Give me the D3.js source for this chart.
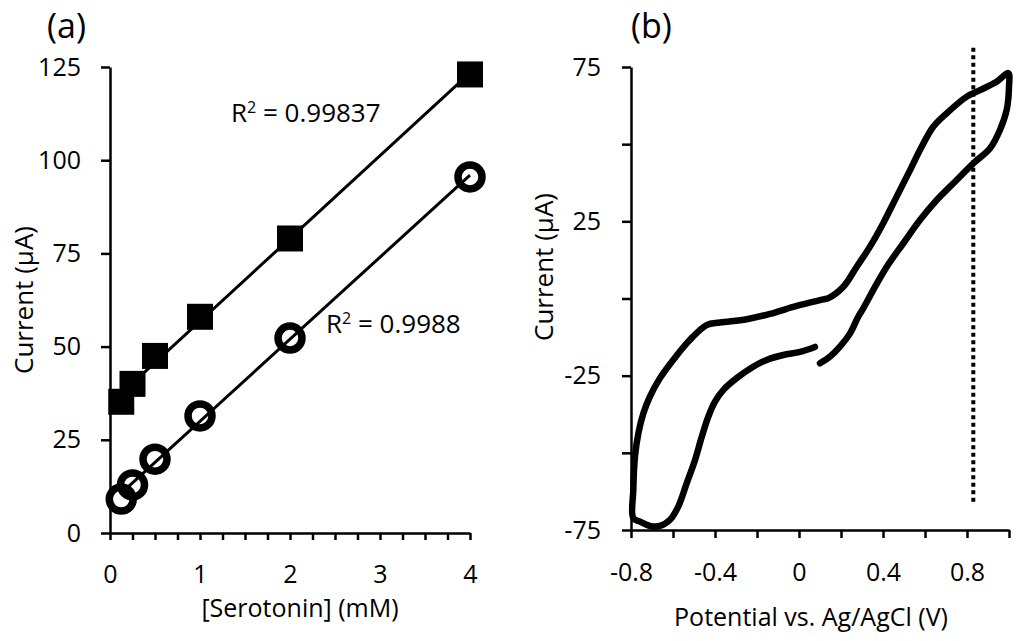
<!DOCTYPE html>
<html>
<head>
<meta charset="utf-8">
<script src="https://cdn.jsdelivr.net/npm/d3@7"></script>
<style>
  body { margin: 0; background: #fff; }
  svg { display: block; }
  text { font-family: "Open Sans", sans-serif; fill: #000; }
  .axis path, .axis line { stroke: #000; stroke-width: 2.5; }
  .axis text { font-size: 25px; font-family: "Open Sans", sans-serif; }
</style>
</head>
<body>
<div id="chart"></div>
<script>
// Panel (a): calibration, [Serotonin] (mM) vs current (uA)
var concA = [0.125, 0.25, 0.5, 1, 2, 4];
var currentSquares = [35.2, 40, 47.5, 58, 79, 123];
var currentCircles = [9.1, 12.9, 19.8, 31.4, 52.3, 95.5];
// trend lines (x ends, y ends)
var trendX = [0.125, 4];
var trendSquaresY = [37.4, 123.4];
var trendCirclesY = [10.7, 96.0];
var r2Labels = ["0.99837", "0.9988"];

var xTicksA = [0, 0.25, 0.5, 0.75, 1, 1.25, 1.5, 1.75, 2, 2.25, 2.5, 2.75, 3, 3.25, 3.5, 3.75, 4];
var xLabelsA = ["0", "1", "2", "3", "4"];
var yTicksA = [0, 25, 50, 75, 100, 125];

// Panel (b): cyclic voltammogram, potential (V) vs current (uA)
var cvPotential = [0.076, 0.005, -0.075, -0.154, -0.218, -0.297, -0.360, -0.400, -0.432, -0.463,
  -0.495, -0.535, -0.575, -0.614, -0.662, -0.710, -0.757, -0.789, -0.789, -0.781,
  -0.765, -0.741, -0.710, -0.662, -0.599, -0.519, -0.440, -0.376, -0.249, -0.138,
  -0.011, 0.116, 0.140, 0.211, 0.275, 0.338, 0.401, 0.465, 0.529, 0.576,
  0.640, 0.703, 0.799, 0.862, 0.941, 0.997, 1.000, 0.989, 0.957, 0.910,
  0.830, 0.751, 0.656, 0.576, 0.497, 0.418, 0.354, 0.306, 0.282, 0.243,
  0.195, 0.148, 0.100];
var cvCurrent = [-15.7, -17.3, -18.3, -19.9, -22.1, -25.8, -29.6, -33.4, -38.3, -44.8,
  -52.3, -59.9, -67.4, -71.7, -73.7, -73.7, -72.3, -71.2, -62.0, -51.2,
  -43.7, -37.2, -31.8, -25.8, -19.9, -13.4, -8.6, -7.8, -6.7, -5.0,
  -2.4, -0.3, 0.1, 3.8, 10.3, 16.8, 24.4, 33.0, 41.6, 48.1,
  55.7, 60.0, 65.4, 67.5, 70.2, 73.0, 68.6, 61.1, 54.6, 48.7,
  43.8, 38.4, 31.9, 25.4, 17.9, 10.3, 2.8, -3.2, -5.9, -11.3,
  -15.6, -18.8, -21.0];
var markerPotential = 0.83;
var markerRange = [81.2, -66.9];

var xTicksB = [-0.8, -0.6, -0.4, -0.2, 0, 0.2, 0.4, 0.6, 0.8, 1.0];
var xLabelsB = ["-0.8", "-0.4", "0", "0.4", "0.8"];
var yTicksB = [-75, -50, -25, 0, 25, 50, 75];
var yLabelsB = ["-75", "-25", "25", "75"];

var width = 1024, height = 641;

var svg = d3.select("#chart").append("svg")
  .attr("width", width)
  .attr("height", height);

// ---------- panel (a) ----------
var xA = d3.scaleLinear().domain([0, 4]).range([110, 470]),
    yA = d3.scaleLinear().domain([0, 125]).range([533, 67]);

var gA = svg.append("g");

gA.append("g")
  .attr("class", "axis")
  .attr("transform", "translate(0," + yA(0) + ")")
  .call(d3.axisBottom(xA)
    .tickValues(xTicksA)
    .tickSizeInner(7).tickSizeOuter(0).tickPadding(25)
    .tickFormat(function(d) { return xLabelsA.indexOf(String(d)) >= 0 ? String(d) : ""; }));

gA.append("g")
  .attr("class", "axis")
  .attr("transform", "translate(" + xA(0) + ",0)")
  .call(d3.axisLeft(yA)
    .tickValues(yTicksA)
    .tickSizeInner(9).tickSizeOuter(0).tickPadding(20)
    .tickFormat(function(d) { return String(d); }));

// trend lines under the markers
gA.append("line")
  .attr("x1", xA(trendX[0])).attr("y1", yA(trendSquaresY[0]))
  .attr("x2", xA(trendX[1])).attr("y2", yA(trendSquaresY[1]))
  .attr("stroke", "#000").attr("stroke-width", 3);
gA.append("line")
  .attr("x1", xA(trendX[0])).attr("y1", yA(trendCirclesY[0]))
  .attr("x2", xA(trendX[1])).attr("y2", yA(trendCirclesY[1]))
  .attr("stroke", "#000").attr("stroke-width", 3);

var sq = 26;
gA.append("g").selectAll("rect")
  .data(concA)
  .enter().append("rect")
  .attr("x", function(d) { return xA(d) - sq / 2; })
  .attr("y", function(d, i) { return yA(currentSquares[i]) - sq / 2; })
  .attr("width", sq).attr("height", sq)
  .attr("fill", "#000");

gA.append("g").selectAll("circle")
  .data(concA)
  .enter().append("circle")
  .attr("cx", function(d) { return xA(d); })
  .attr("cy", function(d, i) { return yA(currentCircles[i]); })
  .attr("r", 12)
  .attr("fill", "none")
  .attr("stroke", "#000")
  .attr("stroke-width", 7.5);

function r2(g, x, y, val) {
  var t = g.append("text").attr("x", x).attr("y", y).style("font-size", "26px");
  t.append("tspan").text("R");
  t.append("tspan").attr("dy", -9).style("font-size", "16px").text("2");
  t.append("tspan").attr("dy", 9).text(" = " + val);
}
r2(gA, 231, 122, r2Labels[0]);
r2(gA, 326, 333, r2Labels[1]);

gA.append("text")
  .attr("x", 47).attr("y", 38)
  .style("font-size", "34px")
  .text("(a)");

gA.append("text")
  .attr("text-anchor", "middle")
  .attr("x", 300).attr("y", 617)
  .style("font-size", "25px")
  .text("[Serotonin] (mM)");

gA.append("text")
  .attr("text-anchor", "middle")
  .attr("transform", "translate(33,300) rotate(-90)")
  .style("font-size", "26px")
  .text("Current (µA)");

// ---------- panel (b) ----------
var xB = d3.scaleLinear().domain([-0.8, 1.0]).range([631, 1009]),
    yB = d3.scaleLinear().domain([-75, 75]).range([530, 67]);

var gB = svg.append("g");

gB.append("g")
  .attr("class", "axis")
  .attr("transform", "translate(0," + yB(-75) + ")")
  .call(d3.axisBottom(xB)
    .tickValues(xTicksB)
    .tickSizeInner(8).tickSizeOuter(0).tickPadding(25)
    .tickFormat(function(d) {
      var s = String(+d.toFixed(1));
      return xLabelsB.indexOf(s) >= 0 ? s : "";
    }));

gB.append("g")
  .attr("class", "axis")
  .attr("transform", "translate(" + xB(-0.8) + ",0)")
  .call(d3.axisLeft(yB)
    .tickValues(yTicksB)
    .tickSizeInner(9).tickSizeOuter(0).tickPadding(21)
    .tickFormat(function(d) { return yLabelsB.indexOf(String(d)) >= 0 ? String(d) : ""; }));

var cv = cvPotential.map(function(v, i) { return [v, cvCurrent[i]]; });

gB.append("path")
  .datum(cv)
  .attr("fill", "none")
  .attr("stroke", "#000")
  .attr("stroke-width", 6.5)
  .attr("stroke-linecap", "round")
  .attr("stroke-linejoin", "round")
  .attr("d", d3.line()
    .x(function(d) { return xB(d[0]); })
    .y(function(d) { return yB(d[1]); })
    .curve(d3.curveCatmullRom));

gB.append("line")
  .attr("x1", xB(markerPotential)).attr("y1", yB(markerRange[0]))
  .attr("x2", xB(markerPotential)).attr("y2", yB(markerRange[1]))
  .attr("stroke", "#000")
  .attr("stroke-width", 4)
  .attr("stroke-dasharray", "4,3.5");

gB.append("text")
  .attr("x", 631).attr("y", 38)
  .style("font-size", "34px")
  .text("(b)");

gB.append("text")
  .attr("text-anchor", "middle")
  .attr("x", 811).attr("y", 626)
  .style("font-size", "25px")
  .text("Potential vs. Ag/AgCl (V)");

gB.append("text")
  .attr("text-anchor", "middle")
  .attr("transform", "translate(553,267) rotate(-90)")
  .style("font-size", "26px")
  .text("Current (µA)");
</script>
</body>
</html>
